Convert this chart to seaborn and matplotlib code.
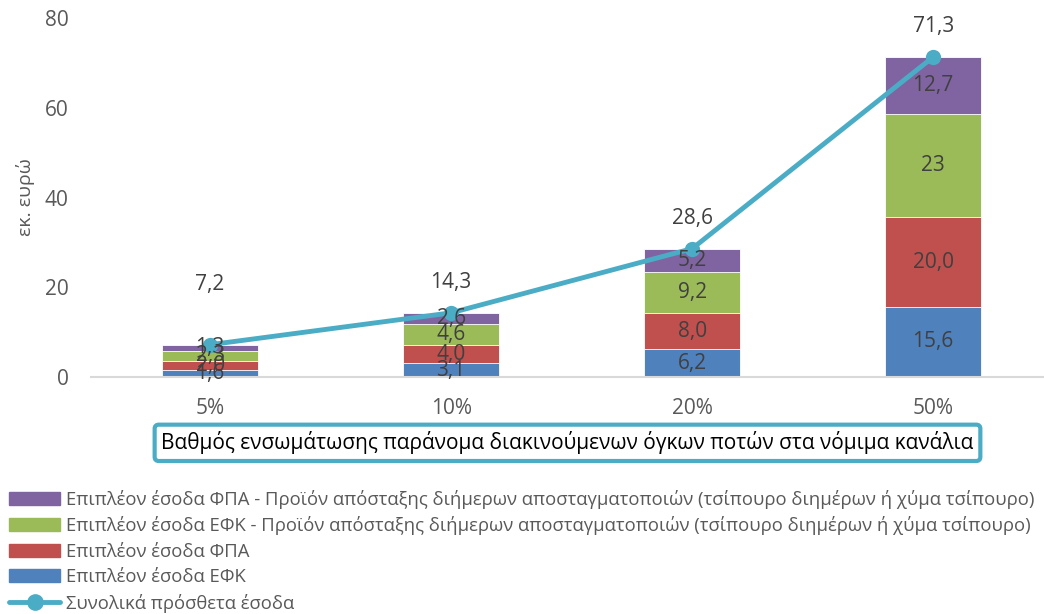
import numpy as np
import pandas as pd
import matplotlib
matplotlib.use("Agg")
import matplotlib.pyplot as plt
from matplotlib.patches import Patch
from matplotlib.lines import Line2D
import seaborn as sns

# data (εκ. ευρώ)
categories = ["5%", "10%", "20%", "50%"]
efk        = [1.6, 3.1, 6.2, 15.6]
fpa        = [2.0, 4.0, 8.0, 20.0]
efk_tsip   = [2.3, 4.6, 9.2, 23]
fpa_tsip   = [1.3, 2.6, 5.2, 12.7]
totals     = [7.2, 14.3, 28.6, 71.3]

series_names = [
    "Επιπλέον έσοδα ΕΦΚ",
    "Επιπλέον έσοδα ΦΠΑ",
    "Επιπλέον έσοδα ΕΦΚ - Προϊόν απόσταξης διήμερων αποσταγματοποιών (τσίπουρο διημέρων ή χύμα τσίπουρο)",
    "Επιπλέον έσοδα ΦΠΑ - Προϊόν απόσταξης διήμερων αποσταγματοποιών (τσίπουρο διημέρων ή χύμα τσίπουρο)",
]
line_name = "Συνολικά πρόσθετα έσοδα"
ylabel = "εκ. ευρώ"
xlabel = "Βαθμός ενσωμάτωσης παράνομα διακινούμενων όγκων ποτών στα νόμιμα κανάλια"

COLORS = ["#4F81BD", "#C0504D", "#9BBB59", "#8064A2"]
LINE_COLOR = "#4BACC6"
TEXT = "#595959"
LABEL = "#404040"


def fmt(v):
    if isinstance(v, int):
        return str(v)
    return f"{v:.1f}".replace(".", ",")


sns.set_theme(style="white")
plt.rcParams["font.family"] = ["Open Sans", "DejaVu Sans"]

fig = plt.figure(figsize=(10.44, 6.14), dpi=100)
ax = fig.add_axes([91 / 1044, 1 - 377 / 614, 1 - 91 / 1044, 359 / 614])

layers = [efk, fpa, efk_tsip, fpa_tsip]
cum = np.cumsum(np.array(layers, dtype=float), axis=0)

# stacked bars: draw cumulative heights, tallest first
for i in range(len(layers) - 1, -1, -1):
    df = pd.DataFrame({"cat": categories, "val": cum[i]})
    sns.barplot(data=df, x="cat", y="val", color=COLORS[i], saturation=1,
                width=0.4, edgecolor="white", linewidth=0.6, ax=ax)

# segment labels
for i, vals in enumerate(layers):
    for j, v in enumerate(vals):
        mid = cum[i][j] - v / 2
        ax.text(j, mid, fmt(v), ha="center", va="center", fontsize=15, color=LABEL)

# total line
sns.lineplot(x=np.arange(len(categories)), y=totals, color=LINE_COLOR, lw=3.5,
             marker="o", markersize=11, markeredgewidth=0, ax=ax)
label_offsets = [43, 22, 22, 22]
for j, (t, off) in enumerate(zip(totals, label_offsets)):
    ax.annotate(fmt(t), (j, t), xytext=(0, off), textcoords="offset points",
                ha="center", va="center", fontsize=15, color=LABEL)

ax.set_xlim(-0.494, 3.46)
ax.set_ylim(0, 80)
ax.set_yticks([0, 20, 40, 60, 80])
ax.tick_params(axis="both", length=0, labelsize=15, labelcolor=TEXT)
ax.tick_params(axis="x", pad=15)
ax.tick_params(axis="y", pad=16)
for s in ["top", "right", "left"]:
    ax.spines[s].set_visible(False)
ax.spines["bottom"].set_color("#D9D9D9")
ax.spines["bottom"].set_linewidth(1.5)

ax.set_ylabel(ylabel, fontsize=14, color=TEXT, labelpad=7)
ax.set_xlabel(xlabel, fontsize=15, color="black", labelpad=9,
              bbox=dict(boxstyle="round,pad=0.32,rounding_size=0.2", fc="white",
                        ec=LINE_COLOR, lw=3))

handles = [Patch(color=COLORS[i]) for i in range(3, -1, -1)]
labels = [series_names[i] for i in range(3, -1, -1)]
handles.append(Line2D([0], [0], color=LINE_COLOR, lw=3.5, marker="o", markersize=11))
labels.append(line_name)
fig.legend(handles, labels, loc="upper left", bbox_to_anchor=(0.003, 1 - 484 / 614),
           frameon=False, fontsize=13.3, labelcolor=TEXT, handlelength=2.8,
           handletextpad=0.3, labelspacing=0.41, borderaxespad=0, borderpad=0.3)

fig.savefig("out.png", dpi=100)
